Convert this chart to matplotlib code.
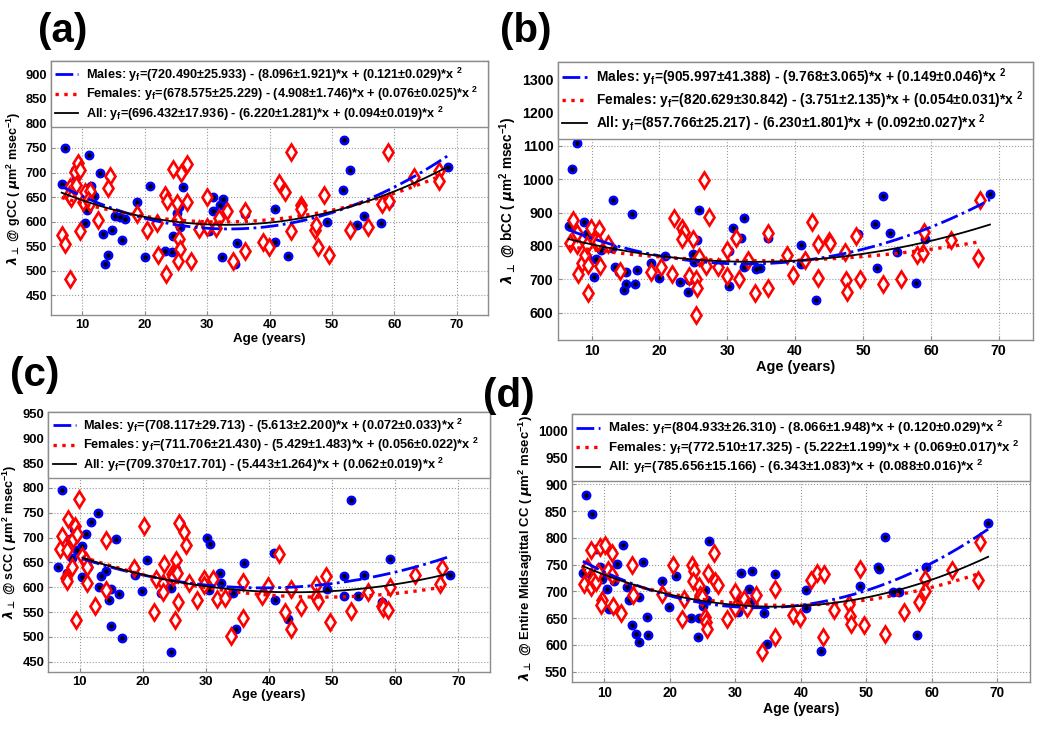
import numpy as np
import matplotlib
matplotlib.use('Agg')
import matplotlib.pyplot as plt
from matplotlib.lines import Line2D

plt.rcParams['font.family'] = ['Liberation Sans', 'DejaVu Sans']
plt.rcParams['font.weight'] = 'bold'
plt.rcParams['mathtext.fontset'] = 'dejavusans'

# ---------------- data ----------------
x_ticks = [10, 20, 30, 40, 50, 60, 70]

# panel (a) gCC
a_m_age = [6.7, 7.2, 8.8, 9.0, 10.4, 10.8, 11.1, 11.4, 11.9, 12.9, 13.3, 13.6, 14.2, 14.8, 15.2, 16.0, 16.8, 16.3, 18.7, 20.0,
           20.8, 23.2, 24.4, 24.5, 25.2, 25.5, 25.6, 26.1, 30.3, 30.9, 31.0, 32.0, 32.6, 32.4, 34.4, 34.8, 36.1, 40.9, 40.9, 43.0,
           49.2, 51.8, 52.0, 52.9, 54.0, 55.1, 57.8, 59.2, 68.6]
a_m_val = [677, 749, 705, 690, 597, 624, 736, 673, 652, 700, 575, 514, 533, 583, 612, 610, 606, 563, 639, 527,
           673, 540, 539, 570, 617, 629, 590, 671, 581, 622, 651, 634, 646, 528, 514, 556, 616, 625, 559, 530,
           600, 664, 766, 705, 593, 612, 597, 638, 711]
a_f_age = [6.8, 7.3, 8.1, 8.0, 7.8, 8.2, 8.8, 9.3, 9.6, 9.0, 10.1, 9.6, 10.5, 11.2, 11.0, 11.3, 12.5, 14.4, 14.2, 18.8,
           20.4, 21.9, 22.2, 23.4, 23.3, 23.6, 24.6, 25.1, 25.8, 26.7, 26.8, 25.2, 25.5, 25.6, 25.4, 27.4, 28.7, 30.0, 30.0, 31.4,
           31.9, 33.2, 34.2, 36.1, 36.1, 38.9, 39.9, 41.5, 42.5, 43.5, 43.5, 45.1, 45.1, 47.3, 47.4, 47.7, 48.8, 49.6, 52.9, 55.7,
           58.0, 58.9, 59.1, 63.1, 67.2, 67.2]
a_f_val = [573, 555, 483, 671, 655, 648, 702, 719, 705, 675, 639, 581, 661, 662, 645, 638, 604, 693, 668, 615,
           583, 597, 533, 494, 654, 642, 707, 638, 700, 717, 639, 604, 564, 545, 519, 519, 585, 650, 590, 587,
           607, 621, 520, 622, 541, 558, 548, 679, 661, 742, 580, 634, 625, 582, 593, 549, 654, 533, 583, 589,
           636, 742, 643, 690, 704, 683]

# panel (b) bCC
b_m_age = [7.9, 7.05, 6.6, 8.9, 9.3, 9.3, 10.6, 10.4, 11.4, 13.2, 13.0, 13.5, 14.1, 16.0, 15.1, 16.7, 15.1, 16.4, 14.8, 18.75,
           19.9, 20.8, 23.0, 24.25, 24.4, 24.9, 25.1, 25.5, 25.9, 30.2, 30.8, 30.3, 32.0, 32.5, 32.4, 34.2, 34.8, 36.0, 40.9, 40.9,
           43.0, 49.2, 51.8, 52.05, 52.9, 54.0, 55.05, 57.85, 59.2, 68.7]
b_m_val = [1107, 1030, 860, 873, 836, 768, 760, 706, 788, 939, 795, 736, 723, 896, 723, 728, 686, 686, 668, 748,
           703, 770, 693, 663, 698, 776, 753, 818, 907, 680, 853, 786, 823, 885, 736, 730, 733, 823, 803, 746,
           638, 835, 866, 733, 950, 840, 781, 688, 821, 955]
b_f_age = [7.3, 6.8, 7.8, 7.9, 8.0, 8.6, 9.1, 9.5, 9.5, 9.3, 9.9, 10.5, 11.1, 10.9, 11.3, 12.4, 14.2, 18.7, 20.3, 21.8,
           22.1, 23.3, 23.6, 23.3, 24.9, 24.4, 25.4, 25.5, 25.4, 25.8, 26.6, 27.35, 26.9, 28.7, 29.9, 29.9, 31.3, 31.7, 33.1, 34.1,
           36.0, 36.0, 38.8, 39.75, 41.5, 42.45, 43.3, 43.3, 45.0, 45.2, 47.4, 47.5, 47.6, 48.95, 49.6, 52.9, 55.6, 57.95, 58.9, 59.0,
           63.0, 67.0, 67.3]
b_f_val = [878, 810, 803, 838, 716, 748, 773, 743, 658, 803, 853, 815, 850, 813, 740, 806, 725, 723, 736, 715,
           883, 853, 843, 820, 820, 711, 700, 673, 593, 768, 997, 888, 740, 738, 710, 788, 823, 700, 758, 660,
           838, 673, 773, 713, 758, 873, 805, 703, 815, 808, 781, 698, 663, 830, 700, 686, 700, 773, 778, 843,
           818, 763, 938]

# panel (c) sCC
c_m_age = [6.6, 7.1, 7.9, 8.4, 9.05, 8.7, 9.6, 10.3, 11.0, 10.4, 11.3, 11.7, 12.8, 13.1, 13.4, 14.1, 14.6, 15.0, 15.0, 15.7,
           16.2, 16.7, 18.7, 19.9, 20.7, 22.9, 24.4, 24.4, 25.3, 25.9, 30.1, 30.6, 30.5, 31.8, 32.2, 32.3, 34.2, 34.7, 36.0, 40.8,
           40.9, 43.0, 49.2, 51.9, 51.8, 52.9, 54.0, 55.0, 57.85, 59.1, 68.6]
c_m_val = [641, 796, 628, 698, 717, 658, 675, 683, 708, 620, 641, 732, 750, 601, 622, 633, 575, 596, 522, 698,
           586, 498, 624, 593, 655, 588, 470, 598, 636, 729, 700, 688, 594, 574, 628, 608, 589, 515, 648, 668,
           574, 537, 597, 622, 582, 775, 582, 625, 570, 657, 625]
c_f_age = [6.8, 7.2, 7.8, 7.9, 8.0, 8.05, 8.7, 8.85, 9.25, 9.6, 9.4, 9.9, 10.4, 10.95, 11.15, 11.2, 12.4, 14.1, 14.2, 18.6,
           20.2, 21.7, 22.0, 23.4, 23.2, 23.2, 24.6, 24.8, 25.0, 25.3, 25.4, 25.6, 25.7, 26.5, 26.8, 27.3, 28.5, 29.7, 29.7, 31.1,
           31.7, 33.0, 34.0, 35.9, 35.9, 38.8, 39.8, 41.55, 42.45, 43.5, 43.5, 45.1, 47.4, 47.5, 47.7, 48.95, 49.6, 52.9, 55.7, 57.9,
           58.1, 58.9, 59.1, 63.1, 67.4, 67.1]
c_f_val = [678, 704, 618, 612, 675, 737, 641, 698, 724, 708, 534, 777, 663, 653, 640, 608, 562, 696, 594, 638,
           723, 551, 616, 646, 608, 591, 627, 621, 535, 655, 628, 570, 729, 712, 685, 608, 574, 616, 604, 616,
           576, 578, 502, 611, 539, 582, 602, 666, 551, 596, 515, 561, 604, 581, 572, 622, 530, 553, 590, 562,
           558, 554, 601, 624, 638, 606]

# panel (d) entire midsagittal CC
d_m_age = [7.16, 8.08, 6.7, 7.9, 8.7, 9.35, 9.6, 10.4, 10.7, 11.1, 11.4, 11.9, 12.9, 13.4, 13.7, 15.2, 14.2, 14.8, 15.2, 15.95,
           16.5, 16.7, 18.85, 19.9, 20.9, 23.2, 24.3, 24.5, 25.0, 25.4, 25.6, 26.0, 30.4, 30.85, 30.5, 32.0, 32.5, 32.3, 34.4, 34.9,
           36.0, 40.8, 40.8, 43.0, 49.1, 51.75, 52.0, 52.9, 54.1, 55.05, 57.7, 59.1, 68.6]
d_m_val = [880, 845, 735, 731, 780, 746, 724, 704, 667, 774, 719, 752, 787, 708, 683, 689, 637, 620, 605, 755,
           653, 619, 719, 671, 728, 650, 615, 650, 673, 703, 684, 795, 661, 735, 683, 704, 738, 680, 659, 601,
           732, 703, 668, 589, 710, 746, 741, 802, 699, 699, 618, 745, 828]
d_f_age = [6.9, 7.4, 7.9, 7.97, 8.3, 8.7, 9.0, 9.35, 9.6, 9.5, 10.1, 10.5, 11.1, 11.2, 11.3, 12.5, 14.2, 14.3, 18.75, 20.4,
           21.8, 22.2, 23.4, 23.7, 23.5, 24.5, 24.6, 24.95, 25.4, 25.5, 25.6, 25.8, 26.7, 26.9, 27.4, 28.7, 29.9, 29.9, 31.3, 31.8,
           33.1, 34.1, 36.0, 36.0, 38.8, 39.85, 41.5, 42.5, 43.5, 43.4, 45.0, 47.3, 47.5, 47.7, 49.0, 49.6, 52.9, 55.7, 58.0, 58.9,
           59.0, 63.1, 67.3, 67.05]
d_f_val = [714, 746, 708, 777, 721, 718, 736, 783, 683, 674, 787, 740, 730, 772, 673, 660, 749, 693, 696, 750,
           649, 686, 749, 738, 720, 710, 694, 690, 652, 643, 630, 735, 771, 719, 712, 649, 699, 668, 686, 668,
           694, 586, 704, 615, 655, 651, 722, 735, 733, 615, 666, 677, 654, 639, 741, 637, 620, 662, 680, 724,
           700, 740, 793, 721]

# fitted coefficients (c0, c1, c2) and their errors for y = c0 - c1*x + c2*x^2  [Males, Females, All]
a_coef = [(720.490, 8.096, 0.121), (678.575, 4.908, 0.076), (696.432, 6.220, 0.094)]
a_err = [(25.933, 1.921, 0.029), (25.229, 1.746, 0.025), (17.936, 1.281, 0.019)]
b_coef = [(905.997, 9.768, 0.149), (820.629, 3.751, 0.054), (857.766, 6.230, 0.092)]
b_err = [(41.388, 3.065, 0.046), (30.842, 2.135, 0.031), (25.217, 1.801, 0.027)]
c_coef = [(708.117, 5.613, 0.072), (711.706, 5.429, 0.056), (709.370, 5.443, 0.062)]
c_err = [(29.713, 2.200, 0.033), (21.430, 1.483, 0.022), (17.701, 1.264, 0.019)]
d_coef = [(804.933, 8.066, 0.120), (772.510, 5.222, 0.069), (785.656, 6.343, 0.088)]
d_err = [(26.310, 1.948, 0.029), (17.325, 1.199, 0.017), (15.166, 1.083, 0.016)]

group_names = ['Males', 'Females', 'All']
panel_letters = ['(a)', '(b)', '(c)', '(d)']
region_names = ['gCC', 'bCC', 'sCC', 'Entire Midsagittal CC']

# ---------------- figure ----------------
fig = plt.figure(figsize=(10.5, 7.32), dpi=100)

panels = [
    dict(rect=[0.0486, 0.5697, 0.4162, 0.3470], ylim=(410, 927), yt=np.arange(450, 901, 50),
         m=(a_m_age, a_m_val), f=(a_f_age, a_f_val), coef=a_coef, err=a_err, fit_start=6.7, s=1.0),
    dict(rect=[0.5311, 0.5355, 0.4524, 0.3802], ylim=(518, 1352), yt=np.arange(600, 1301, 100),
         m=(b_m_age, b_m_val), f=(b_f_age, b_f_val), coef=b_coef, err=b_err, fit_start=6.6, s=1.09),
    dict(rect=[0.0460, 0.0824, 0.4207, 0.3548], ylim=(430, 953), yt=np.arange(450, 951, 50),
         m=(c_m_age, c_m_val), f=(c_f_age, c_f_val), coef=c_coef, err=c_err, fit_start=10.4, s=1.01),
    dict(rect=[0.5445, 0.0679, 0.4365, 0.3661], ylim=(530, 1031), yt=np.arange(550, 1001, 50),
         m=(d_m_age, d_m_val), f=(d_f_age, d_f_val), coef=d_coef, err=d_err, fit_start=6.7, s=1.05),
]

line_styles = [dict(color='blue', ls='-.', lw=2.0),
               dict(color='red', ls=':', lw=2.4),
               dict(color='black', ls='-', lw=1.3)]

for i, p in enumerate(panels):
    ax = fig.add_axes(p['rect'])
    s = p['s']
    ax.set_xlim(5, 75)
    ax.set_ylim(*p['ylim'])
    ax.set_xticks(x_ticks)
    ax.set_yticks(p['yt'])
    ax.grid(True, ls=':', color='#9a9a9a', lw=0.8)
    ax.set_axisbelow(True)
    for sp in ax.spines.values():
        sp.set_color('#8c8c8c')
        sp.set_linewidth(1.0)
    ax.tick_params(direction='in', length=3, color='#8c8c8c', labelsize=9.3 * s, pad=3)
    for lab in ax.get_xticklabels() + ax.get_yticklabels():
        lab.set_fontweight('bold')

    ma, mv = p['m']
    fa, fv = p['f']
    ax.plot(ma, mv, 'o', ms=6.1, mfc='blue', mec='blue', zorder=3)
    ax.plot(ma, mv, 'o', ms=2.3, mfc='black', mec='black', zorder=3.1)
    ax.plot(fa, fv, 'd', ms=7.8, mfc='white', mec='red', mew=1.9, zorder=3.2)

    ends = [max(ma), max(fa), max(max(ma), max(fa))]
    for g in range(3):
        c0, c1, c2 = p['coef'][g]
        xx = np.linspace(p['fit_start'], ends[g], 200)
        ax.plot(xx, c0 - c1 * xx + c2 * xx ** 2, zorder=4, **line_styles[g])

    handles = [Line2D([], [], **line_styles[g]) for g in range(3)]
    labels = []
    for g in range(3):
        c0, c1, c2 = p['coef'][g]
        e0, e1, e2 = p['err'][g]
        labels.append(f"{group_names[g]}: y$_\\mathregular{{f}}$=({c0:.3f}\u00b1{e0:.3f}) - ({c1:.3f}\u00b1{e1:.3f})*x"
                      f" + ({c2:.3f}\u00b1{e2:.3f})*x $^\\mathregular{{2}}$")
    leg = ax.legend(handles, labels, loc='upper left', bbox_to_anchor=(0, 0, 1, 1), mode='expand',
                    borderaxespad=0, fancybox=False, edgecolor='#8c8c8c', framealpha=1,
                    prop=dict(size=9.1 * s, weight='bold'), handlelength=1.8, handletextpad=0.6,
                    labelspacing=0.1, borderpad=0.35)
    leg.get_frame().set_linewidth(1.0)
    leg.set_zorder(10)

    ax.set_xlabel('Age (years)', fontsize=9.6 * s, fontweight='bold', labelpad=1)
    ax.set_ylabel(r'$\lambda_{\bot}$ @ ' + region_names[i] + r' ( $\mu$m$^\mathregular{2}$ msec$^\mathregular{-1}$)',
                  fontsize=9.0 * s, fontweight='bold', labelpad=2)

label_pos = [(0.036, 0.958), (0.476, 0.958), (0.0095, 0.488), (0.460, 0.459)]
for (x, y), t in zip(label_pos, panel_letters):
    fig.text(x, y, t, fontsize=29, fontweight='bold', va='center', ha='left')

fig.savefig('out.png', dpi=100)
